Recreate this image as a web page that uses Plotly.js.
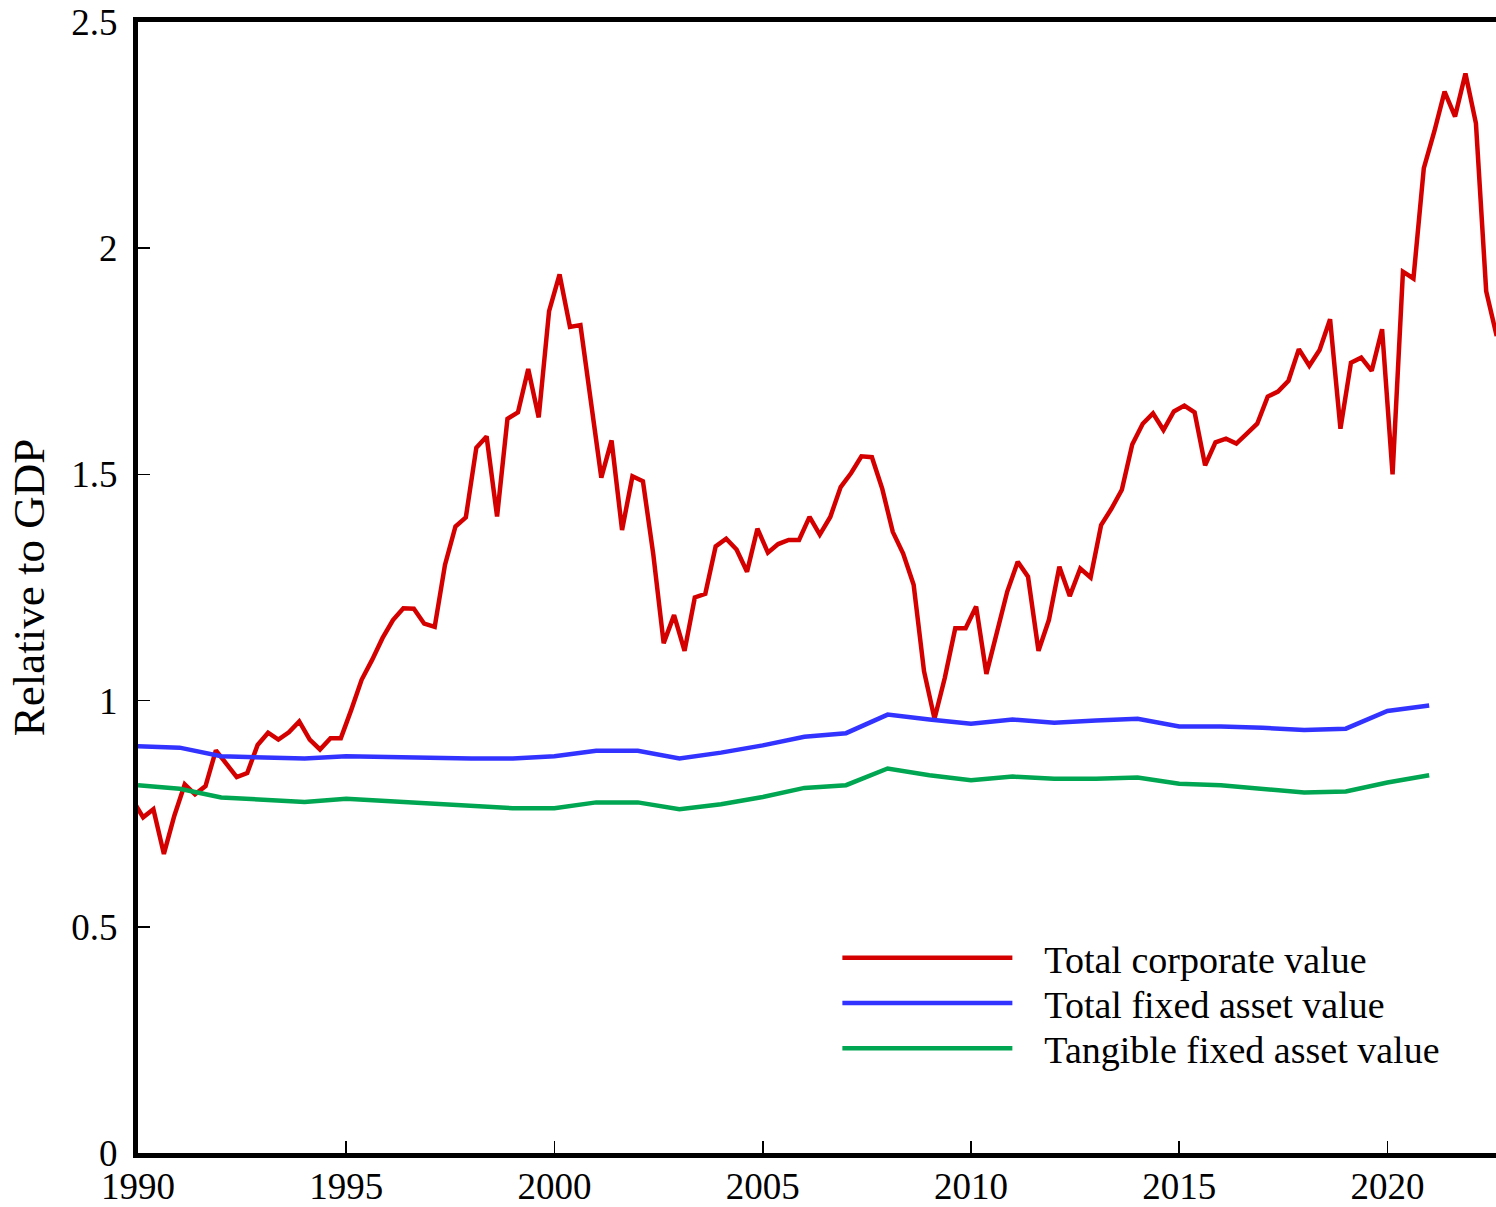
<!DOCTYPE html>
<html>
<head>
<meta charset="utf-8">
<script src="https://cdn.plot.ly/plotly-3.0.1.min.js"></script>
<style>
html, body { margin: 0; padding: 0; background: #ffffff; }
#chart { width: 1496px; height: 1207px; }
</style>
</head>
<body>
<div id="chart"></div>
<script>
// ---------- DATA ----------
// Quarterly total corporate value relative to GDP, 1989Q4 .. 2022Q3 (plotted at mid-quarter)
const corpStartYear = 1989;
const corpStartQuarter = 4;
const corporateValue = [
  0.780,
  0.742, 0.760, 0.661, 0.745,   // 1990
  0.815, 0.793, 0.811, 0.890,   // 1991
  0.859, 0.831, 0.840, 0.902,   // 1992
  0.929, 0.914, 0.930, 0.954,   // 1993
  0.914, 0.892, 0.917, 0.917,   // 1994
  0.980, 1.046, 1.090, 1.138,   // 1995
  1.178, 1.204, 1.203, 1.170,   // 1996
  1.163, 1.300, 1.385, 1.405,   // 1997
  1.559, 1.584, 1.407, 1.623,   // 1998
  1.637, 1.733, 1.626, 1.861,   // 1999
  1.942, 1.826, 1.830, 1.663,   // 2000
  1.493, 1.575, 1.377, 1.496,   // 2001
  1.485, 1.325, 1.127, 1.189,   // 2002
  1.110, 1.228, 1.236, 1.341,   // 2003
  1.358, 1.334, 1.285, 1.380,   // 2004
  1.327, 1.346, 1.355, 1.355,   // 2005
  1.406, 1.367, 1.406, 1.472,   // 2006
  1.503, 1.540, 1.538, 1.468,   // 2007
  1.373, 1.325, 1.256, 1.065,   // 2008
  0.960, 1.050, 1.160, 1.160,   // 2009
  1.208, 1.059, 1.150, 1.241,   // 2010
  1.307, 1.274, 1.110, 1.178,   // 2011
  1.296, 1.231, 1.292, 1.272,   // 2012
  1.388, 1.424, 1.466, 1.566,   // 2013
  1.612, 1.635, 1.598, 1.639,   // 2014
  1.652, 1.637, 1.520, 1.571,   // 2015
  1.579, 1.568, 1.590, 1.612,   // 2016
  1.672, 1.683, 1.707, 1.777,   // 2017
  1.740, 1.775, 1.843, 1.601,   // 2018
  1.747, 1.758, 1.729, 1.821,   // 2019
  1.500, 1.948, 1.933, 2.177,   // 2020
  2.258, 2.346, 2.291, 2.386,   // 2021
  2.276, 1.905, 1.806           // 2022
];

// Annual series, 1990 .. 2021
const annualYears = [1990,1991,1992,1993,1994,1995,1996,1997,1998,1999,2000,2001,2002,2003,2004,2005,
                     2006,2007,2008,2009,2010,2011,2012,2013,2014,2015,2016,2017,2018,2019,2020,2021];
const totalFixedAssetValue = [0.899,0.896,0.877,0.875,0.872,0.877,0.875,0.872,0.872,0.872,0.877,0.889,0.889,0.872,0.885,0.901,
                              0.920,0.928,0.969,0.958,0.949,0.958,0.951,0.956,0.960,0.943,0.943,0.940,0.935,0.938,0.977,0.989];
const tangibleFixedAssetValue = [0.813,0.805,0.786,0.782,0.776,0.783,0.778,0.772,0.769,0.762,0.762,0.775,0.775,0.760,0.771,0.787,
                                 0.807,0.813,0.850,0.835,0.824,0.832,0.827,0.827,0.830,0.816,0.813,0.806,0.797,0.799,0.819,0.835];

const seriesNames = ['Total corporate value', 'Total fixed asset value', 'Tangible fixed asset value'];

const xTickYears = [1990, 1995, 2000, 2005, 2010, 2015, 2020];
const yTickVals = [0, 0.5, 1, 1.5, 2, 2.5];
const yTickText = ['0', '0.5', '1', '1.5', '2', '2.5'];

// ---------- BUILD ----------
const midQuarter = ['-02-15', '-05-16', '-08-16', '-11-15'];
const corpDates = corporateValue.map((v, i) => {
  const q = (corpStartQuarter - 1) + i;
  const y = corpStartYear + Math.floor(q / 4);
  return y + midQuarter[q % 4];
});
const annualDates = annualYears.map(y => y + '-01-01');

const FONT = 'Liberation Serif, Times New Roman, Times, serif';
const colors = ['#d40000', '#3333ff', '#00a651'];

const traces = [
  { x: corpDates, y: corporateValue, name: seriesNames[0], type: 'scatter', mode: 'lines',
    line: { color: colors[0], width: 4.5 }, legend: 'legend' },
  { x: annualDates, y: totalFixedAssetValue, name: seriesNames[1], type: 'scatter', mode: 'lines',
    line: { color: colors[1], width: 4.5 }, legend: 'legend2' },
  { x: annualDates, y: tangibleFixedAssetValue, name: seriesNames[2], type: 'scatter', mode: 'lines',
    line: { color: colors[2], width: 4.5 }, legend: 'legend3' }
];

const legendBase = {
  xanchor: 'left', yanchor: 'middle', bgcolor: 'rgba(0,0,0,0)', borderwidth: 0,
  font: { family: FONT, size: 38, color: '#000' }, itemwidth: 197, tracegroupgap: 0
};

const layout = {
  width: 1496, height: 1207,
  paper_bgcolor: '#ffffff', plot_bgcolor: '#ffffff',
  margin: { l: 138, r: 0, t: 22, b: 54, pad: 0 },
  font: { family: FONT, size: 37, color: '#000' },
  showlegend: true,
  legend:  Object.assign({}, legendBase, { x: 0.515, y: 0.1723 }),
  legend2: Object.assign({}, legendBase, { x: 0.515, y: 0.1323 }),
  legend3: Object.assign({}, legendBase, { x: 0.515, y: 0.0923 }),
  xaxis: {
    type: 'date',
    range: ['1990-01-01', '2022-08-10'],
    tickvals: xTickYears.map(y => y + '-01-01'),
    ticktext: xTickYears.map(String),
    ticks: 'inside', ticklen: 12, tickwidth: 1.5, tickcolor: '#000',
    showline: true, linewidth: 5, linecolor: '#000', mirror: true,
    showgrid: false, zeroline: false,
    ticklabelstandoff: -3,
    tickfont: { family: FONT, size: 37, color: '#000' }
  },
  yaxis: {
    range: [0, 2.5],
    tickvals: yTickVals, ticktext: yTickText,
    ticks: 'inside', ticklen: 12, tickwidth: 1.5, tickcolor: '#000',
    showline: true, linewidth: 5, linecolor: '#000', mirror: false,
    showgrid: false, zeroline: false,
    ticklabelstandoff: 8,
    tickfont: { family: FONT, size: 37, color: '#000' },
    title: { text: 'Relative to GDP', font: { family: FONT, size: 45, color: '#000' }, standoff: 14 }
  }
};

Plotly.newPlot('chart', traces, layout, { displayModeBar: false, staticPlot: true }).then(gd => {
  // lengthen legend line samples to match the original figure
  gd.querySelectorAll('.legendlines path').forEach(p => p.setAttribute('d', 'M5,0h170'));
});
</script>
</body>
</html>
